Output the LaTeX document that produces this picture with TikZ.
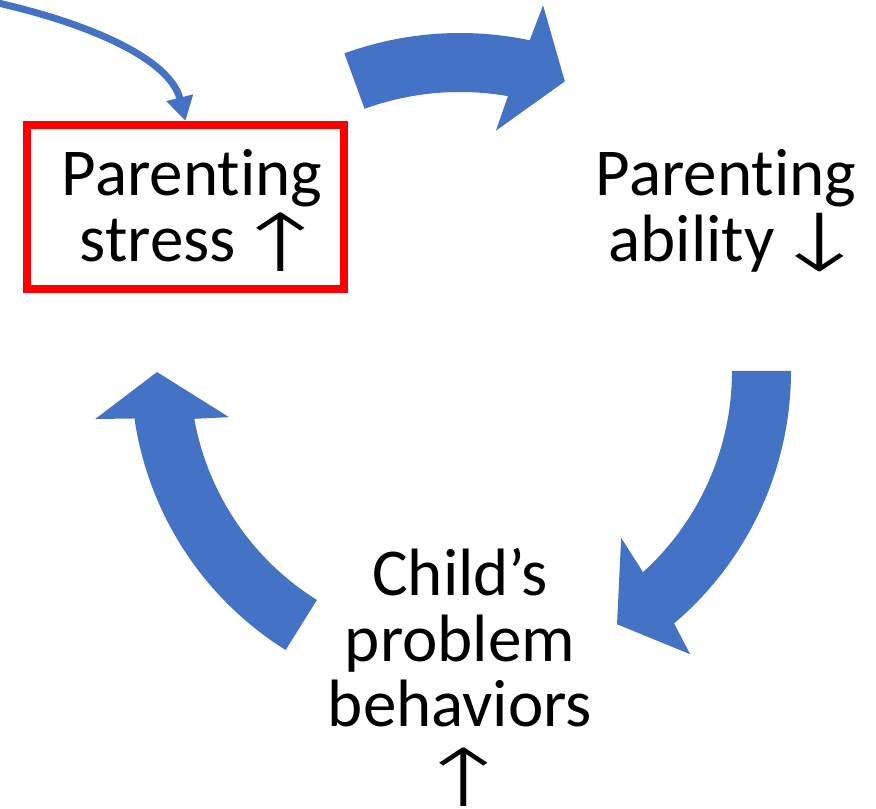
\documentclass[tikz,border=0pt]{standalone}
\usepackage{fontspec}
\setmainfont[Ligatures=NoCommon]{Carlito}
\newfontfamily\arrowfont{DejaVu Sans ExtraLight}
\usepackage{graphicx}
\usepackage{xcolor}
\definecolor{cycleblue}{RGB}{68,114,196}
\definecolor{boxred}{RGB}{255,0,0}
\usepackage{tikz}
\usetikzlibrary{arrows.meta}
\newcommand{\stagefont}{\fontsize{67}{66}\selectfont}
\newcommand{\trend}[1]{\kern-20pt\raisebox{-10pt}{\scalebox{1.5}[1]{\arrowfont\fontsize{80}{66}\selectfont #1}}\kern-27pt}
\tikzset{
    stage/.style={align=center, anchor=base, inner sep=0pt, font=\stagefont},
    stressbox/.style={draw=boxred, line width=8pt, minimum width=317pt, minimum height=164pt, inner sep=0pt},
    cyclearrow/.style={fill=cycleblue, draw=none},
    feed/.style={draw=cycleblue, line width=7pt, -{Triangle[length=24pt, width=26pt]}}
}

\begin{document}
\begin{tikzpicture}[x=1pt, y=1pt]
    \useasboundingbox (0,0) rectangle (876,809);
    \coordinate (hub) at (460,438);

    % the three curved arrows of the cycle
    \fill[cyclearrow, shift={(hub)}]
        (110:338) arc[start angle=110, end angle=78.1, radius=338]
        -- (77.2:375) -- (70.1:308) -- (81.5:243) -- (80.1:279)
        arc[start angle=80.1, end angle=110, radius=279] -- cycle;
    \fill[cyclearrow, shift={(hub)}]
        (0:331) arc[start angle=0, end angle=-49.7, radius=331]
        -- (-50.9:365) -- (-58.2:298) -- (-46.0:232) -- (-47.7:272)
        arc[start angle=-47.7, end angle=0, radius=272] -- cycle;
    \fill[cyclearrow, shift={(hub)}]
        (238:329) arc[start angle=238, end angle=188.3, radius=329]
        -- (187.5:368) -- (180.2:303) -- (191.3:235.5) -- (190.2:270)
        arc[start angle=190.2, end angle=238, radius=270] -- cycle;

    \node[stressbox] (box) at (185.5,602) {};
    \node[stage] (stress) at (192,547) {Parenting\\stress \trend{↑}};
    \node[stage] (ability) at (726,547) {Parenting\\ability \trend{↓}};
    \node[stage] (child) at (460,12) {Child’s\\problem\\behaviors\\[4pt]\trend{↑}};

    \coordinate (source) at (-2,806);
    \draw[feed] (source) .. controls (90,785) and (170,750) .. (box.north);
\end{tikzpicture}
\end{document}
